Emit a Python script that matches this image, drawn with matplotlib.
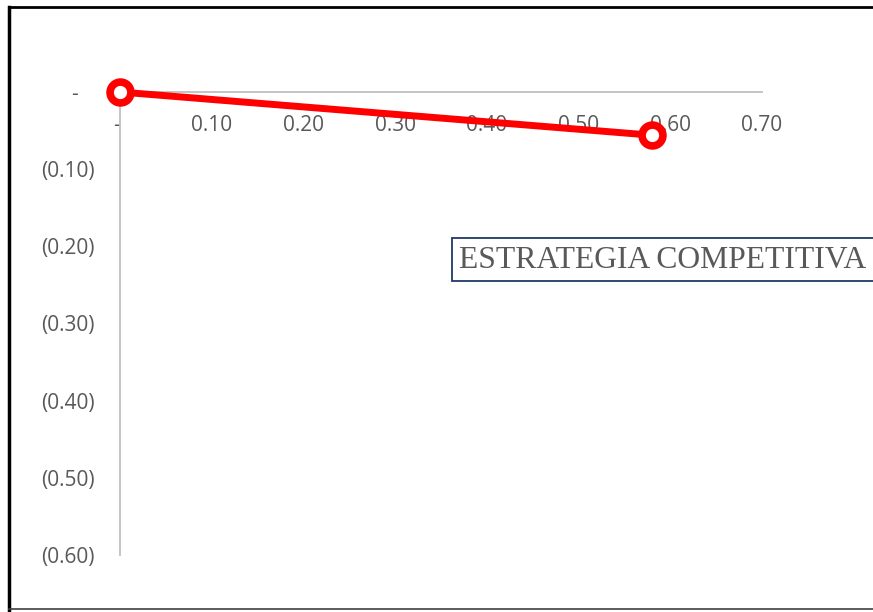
import matplotlib.pyplot as plt
from matplotlib.lines import Line2D
from matplotlib.patches import Rectangle

# data
x_vals = [0.0, 0.58]
y_vals = [0.0, -0.056]
x_ticks = [0.0, 0.1, 0.2, 0.3, 0.4, 0.5, 0.6, 0.7]
x_labels = ['- ', '0.10', '0.20', '0.30', '0.40', '0.50', '0.60', '0.70']
y_ticks = [0.0, -0.1, -0.2, -0.3, -0.4, -0.5, -0.6]
y_labels = ['-   ', '(0.10)', '(0.20)', '(0.30)', '(0.40)', '(0.50)', '(0.60)']
title = 'ESTRATEGIA COMPETITIVA'

W, H = 873, 612
fig = plt.figure(figsize=(W / 100, H / 100), dpi=100)
ax = fig.add_axes([120 / W, 1 - 555 / H, (762 - 120) / W, (555 - 92) / H])

ax.plot(x_vals, y_vals, color='#FF0000', lw=5, marker='o', markersize=15,
        markerfacecolor='white', markeredgecolor='#FF0000', markeredgewidth=5.5,
        clip_on=False, zorder=5)

ax.set_xlim(0, 0.7)
ax.set_ylim(-0.6, 0)
for s in ['right', 'bottom']:
    ax.spines[s].set_visible(False)
ax.spines['top'].set_color('#BFBFBF')
ax.spines['top'].set_linewidth(1.3)
ax.spines['left'].set_color('#BFBFBF')
ax.spines['left'].set_linewidth(1.3)

ax.set_xticks(x_ticks)
ax.set_xticklabels(x_labels)
ax.set_yticks(y_ticks)
ax.set_yticklabels(y_labels)
ax.xaxis.set_ticks_position('top')
ax.tick_params(axis='x', length=0, pad=-32, labelsize=15, labelcolor='#595959',
               labeltop=True, labelbottom=False)
ax.tick_params(axis='y', length=0, pad=18, labelsize=15, labelcolor='#595959')
for lbl in ax.get_xticklabels() + ax.get_yticklabels():
    lbl.set_fontfamily('Open Sans')

# outer frame
fig.add_artist(Line2D([9 / W, 9 / W], [0, 1 - 7 / H], transform=fig.transFigure,
                      color='black', lw=2.5))
fig.add_artist(Line2D([9 / W, 1], [1 - 7 / H, 1 - 7 / H], transform=fig.transFigure,
                      color='black', lw=2))
fig.add_artist(Line2D([9 / W, 1], [1 - 609 / H, 1 - 609 / H], transform=fig.transFigure,
                      color='#404040', lw=1.2))

# title box runs past the right edge, as in the original
fig.add_artist(Rectangle((452 / W, 1 - 281 / H), (W + 20 - 452) / W, 43 / H,
                         transform=fig.transFigure, facecolor='white',
                         edgecolor='#1F3864', lw=1.3, zorder=3))
fig.text(459 / W, 1 - 260 / H, title, fontfamily='Liberation Serif', fontsize=22.8,
         color='#595959', va='center', ha='left', zorder=4)

fig.savefig('out.png', dpi=100)
